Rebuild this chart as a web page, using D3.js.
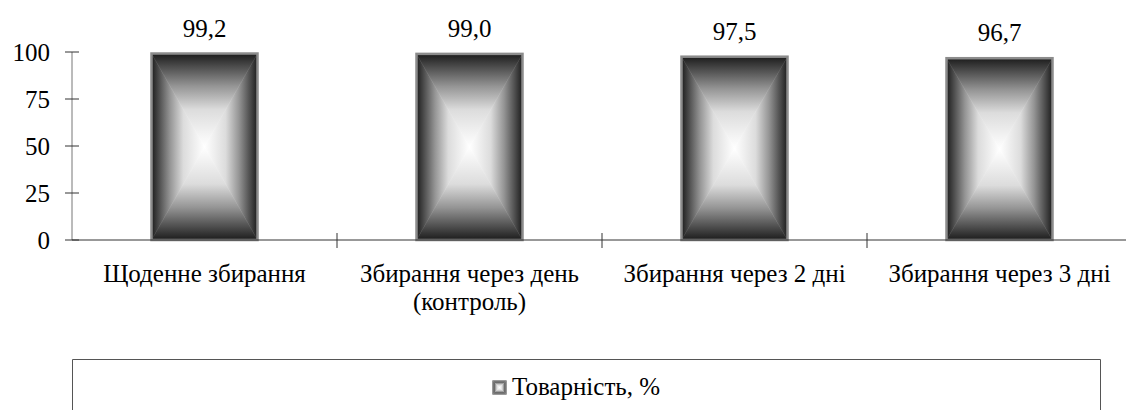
<!DOCTYPE html>
<html><head><meta charset="utf-8">
<script src="https://cdn.jsdelivr.net/npm/d3@7"></script>
<style>body{margin:0;background:#fff}svg{display:block}</style>
</head><body><svg id="c" width="1126" height="410"></svg>
<script>
const categories = ["Щоденне збирання", "Збирання через день|(контроль)", "Збирання через 2 дні", "Збирання через 3 дні"];
const values = [99.2, 99.0, 97.5, 96.7];
const valueLabels = ["99,2", "99,0", "97,5", "96,7"];
const yTicks = [0, 25, 50, 75, 100];
const seriesName = "Товарність, %";

const FONT = "Times New Roman, Tinos, Liberation Serif, DejaVu Serif, Noto Serif, serif";
const FS = 25;
const svg = d3.select("#c");
const pL = 72, pR = 1132, pT = 52, pB = 240;
const x = d3.scaleBand().domain(categories).range([pL, pR]).paddingInner(0.6).paddingOuter(0.3);
const xb = d3.scaleBand().domain(categories).range([pL, pR]);
const y = d3.scaleLinear().domain([0, 100]).range([pB, pT]);

// gradients
const defs = svg.append("defs");
const stops = [[0, "#1c1c1c"], [0.15, "#505050"], [0.35, "#959595"], [0.6, "#dcdcdc"], [1, "#ffffff"]];
function grad(id, x1, y1, x2, y2) {
  const g = defs.append("linearGradient").attr("id", id).attr("x1", x1).attr("y1", y1).attr("x2", x2).attr("y2", y2);
  stops.forEach(s => g.append("stop").attr("offset", s[0]).attr("stop-color", s[1]));
}
grad("gT", 0, 0, 0, 1); grad("gB", 0, 1, 0, 0); grad("gL", 0, 0, 1, 0); grad("gR", 1, 0, 0, 0);

function gradRect(g, x0, y0, x1, y1, sw) {
  const cx = (x0 + x1) / 2, cy = (y0 + y1) / 2;
  const tris = [
    [[x0, y0], [x1, y0], [cx, cy], "gT"],
    [[x0, y1], [x1, y1], [cx, cy], "gB"],
    [[x0, y0], [x0, y1], [cx, cy], "gL"],
    [[x1, y0], [x1, y1], [cx, cy], "gR"]
  ];
  tris.forEach(t => g.append("polygon")
    .attr("points", t.slice(0, 3).map(p => p.join(",")).join(" "))
    .attr("fill", `url(#${t[3]})`)
    .attr("stroke", `url(#${t[3]})`).attr("stroke-width", 0.5));
  g.append("rect").attr("x", x0).attr("y", y0).attr("width", x1 - x0).attr("height", y1 - y0)
    .attr("fill", "none").attr("stroke", "#8c8c8c").attr("stroke-width", sw);
}

function txt(xp, yp, s, anchor) {
  return svg.append("text").attr("x", xp).attr("y", yp).attr("text-anchor", anchor || "start")
    .style("font-family", FONT).attr("font-size", FS).attr("fill", "#000").text(s);
}

// bars
categories.forEach((c, i) => {
  const g = svg.append("g");
  gradRect(g, x(c), y(values[i]), x(c) + x.bandwidth(), y(0), 2.5);
  txt(x(c) + x.bandwidth() / 2, y(values[i]) - 17, valueLabels[i], "middle");
});

// y axis
svg.append("line").attr("x1", pL).attr("x2", pL).attr("y1", pT).attr("y2", pB).attr("stroke", "#777");
yTicks.forEach(t => {
  svg.append("line").attr("x1", pL - 7).attr("x2", pL + 7).attr("y1", y(t)).attr("y2", y(t)).attr("stroke", "#333");
  txt(50, y(t) + 9, t, "end");
});
// x axis
svg.append("line").attr("x1", pL).attr("x2", 1126).attr("y1", pB).attr("y2", pB).attr("stroke", "#333");
categories.forEach((c, i) => {
  const xx = xb(c) + xb.bandwidth();
  svg.append("line").attr("x1", xx).attr("x2", xx).attr("y1", pB - 7).attr("y2", pB + 8).attr("stroke", "#333");
  const lines = c.split("|");
  const t = txt(0, 0, "", "middle");
  lines.forEach((l, j) => t.append("tspan").attr("x", xb(c) + xb.bandwidth() / 2).attr("y", 282 + j * 28).text(l));
});

// legend
svg.append("path").attr("d", "M72.5,410 V359.5 H1100.5 V410").attr("fill", "none").attr("stroke", "#555");
const lg = svg.append("g");
gradRect(lg, 493, 381, 506, 394, 1.5);
txt(512, 395, seriesName);
</script></body></html>
